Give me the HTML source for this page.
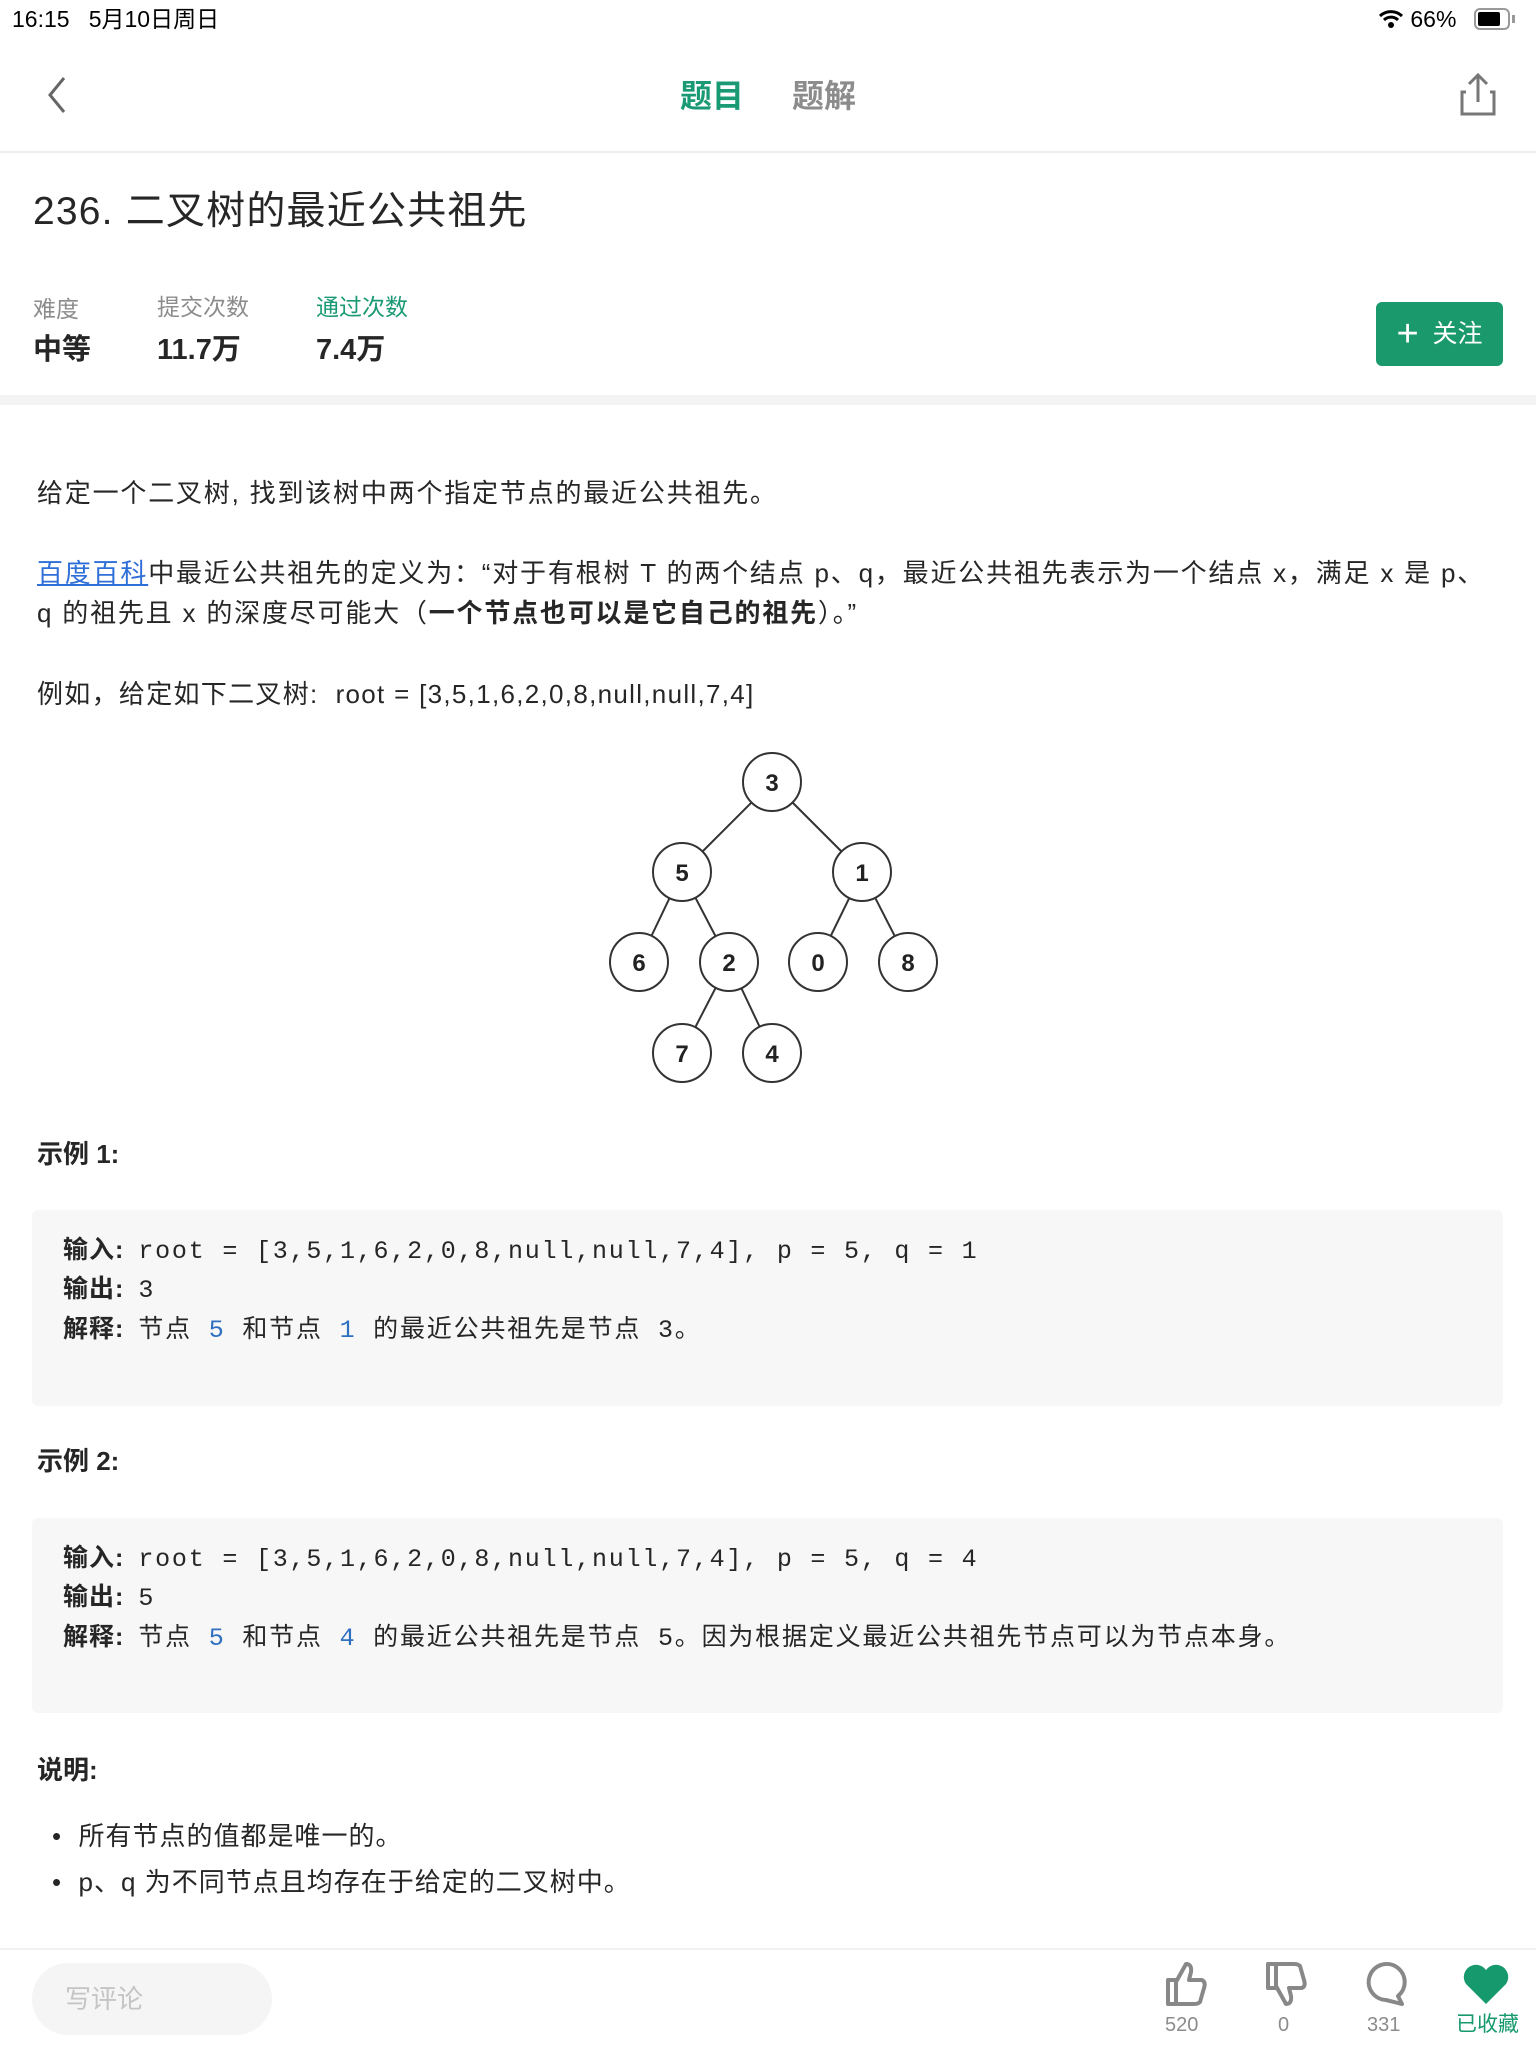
<!DOCTYPE html>
<html><head><meta charset="utf-8"><style>
*{margin:0;padding:0;box-sizing:border-box}
body{width:1536px;height:2048px;background:#fff;position:relative;overflow:hidden;font-family:"Liberation Sans","Noto Sans CJK SC",sans-serif;color:#262626}
.a{position:absolute;white-space:nowrap;line-height:1}
.t{letter-spacing:1.8px}
.mono{font-family:"Liberation Mono","Noto Sans CJK SC",monospace;letter-spacing:1.8px}
.box{position:absolute;left:32px;width:1471px;background:#f7f7f8;border-radius:6px}
.b{color:#2f6fc0}
.lb{font-family:'Liberation Sans','Noto Sans CJK SC';letter-spacing:1px;margin-right:14px}
</style></head><body>
<div class="a" style="left:12px;top:8px;font-size:23px;color:#000">16:15&nbsp;&nbsp;&nbsp;5月10日周日</div>
<div class="a" style="left:1378px;top:8px;font-size:23px;color:#000">
<svg width="26" height="22" viewBox="0 0 26 22" style="vertical-align:-3px"><path d="M2 8a16 16 0 0 1 22 0" stroke="#000" stroke-width="3" fill="none"/><path d="M6 12a10 10 0 0 1 14 0" stroke="#000" stroke-width="3" fill="none"/><circle cx="13" cy="17" r="3"/></svg> 66%</div>
<div class="a" style="left:1474px;top:8px;width:36px;height:22px;border:2px solid #999;border-radius:6px"><div style="margin:2px;width:22px;height:14px;background:#000;border-radius:2px"></div></div>
<div class="a" style="left:1512px;top:15px;width:3px;height:8px;background:#999"></div>
<svg class="a" style="left:40px;top:75px" width="30" height="40"><path d="M24 3 L10 20 L24 37" stroke="#666" stroke-width="3" fill="none"/></svg>
<div class="a" style="left:680px;top:80px;font-size:32px;color:#1a9a74;font-weight:bold">题目</div>
<div class="a" style="left:792px;top:80px;font-size:32px;color:#8c8c8c;font-weight:bold">题解</div>
<svg class="a" style="left:1458px;top:72px" width="40" height="46"><path d="M20 30 V4 M11 12 L20 3 L29 12" stroke="#777" stroke-width="3" fill="none"/><path d="M8 20 H4 V42 H36 V20 H32" stroke="#777" stroke-width="3" fill="none"/></svg>
<div class="a" style="left:0;top:151px;width:1536px;height:2px;background:#eee"></div>
<div class="a" style="left:33px;top:192px;font-size:39px;color:#262626;letter-spacing:1.2px">236. 二叉树的最近公共祖先</div>
<div class="a" style="left:33px;top:298px;font-size:23px;color:#8c8c8c">难度</div>
<div class="a" style="left:157px;top:296px;font-size:23px;color:#8c8c8c">提交次数</div>
<div class="a" style="left:316px;top:296px;font-size:23px;color:#1a9a74">通过次数</div>
<div class="a" style="left:33px;top:336px;font-size:29px;font-weight:bold">中等</div>
<div class="a" style="left:157px;top:336px;font-size:29px;font-weight:bold">11.7万</div>
<div class="a" style="left:316px;top:336px;font-size:29px;font-weight:bold">7.4万</div>
<div class="a" style="left:1376px;top:302px;width:127px;height:64px;background:#1a9a6c;border-radius:6px;color:#fff;font-size:25px;line-height:64px;text-align:center"><span style="font-size:38px;vertical-align:-4px">+</span>&nbsp;&nbsp;关注</div>
<div class="a" style="left:0;top:395px;width:1536px;height:10px;background:#f3f3f3"></div>
<div class="a t" style="left:37px;top:480px;font-size:26px">给定一个二叉树, 找到该树中两个指定节点的最近公共祖先。</div>
<div class="a t" style="left:37px;top:560px;font-size:26px"><span style="color:#2f6fd8;text-decoration:underline">百度百科</span>中最近公共祖先的定义为：“对于有根树 T 的两个结点 p、q，最近公共祖先表示为一个结点 x，满足 x 是 p、</div>
<div class="a t" style="left:37px;top:600px;font-size:26px">q 的祖先且 x 的深度尽可能大（<b>一个节点也可以是它自己的祖先</b>）。”</div>
<div class="a" style="left:37px;top:681px;font-size:26px;letter-spacing:1.3px">例如，给定如下二叉树:&nbsp; root = [3,5,1,6,2,0,8,null,null,7,4]</div>
<svg class="a" style="left:0;top:0" width="1536" height="1100">
<g stroke="#333" stroke-width="2" fill="#fff">
<line x1="772" y1="782" x2="682" y2="872"/><line x1="772" y1="782" x2="862" y2="872"/>
<line x1="682" y1="872" x2="639" y2="962"/><line x1="682" y1="872" x2="729" y2="962"/>
<line x1="862" y1="872" x2="818" y2="962"/><line x1="862" y1="872" x2="908" y2="962"/>
<line x1="729" y1="962" x2="682" y2="1053"/><line x1="729" y1="962" x2="772" y2="1053"/>
<circle cx="772" cy="782" r="29"/><circle cx="682" cy="872" r="29"/><circle cx="862" cy="872" r="29"/>
<circle cx="639" cy="962" r="29"/><circle cx="729" cy="962" r="29"/><circle cx="818" cy="962" r="29"/><circle cx="908" cy="962" r="29"/>
<circle cx="682" cy="1053" r="29"/><circle cx="772" cy="1053" r="29"/>
</g>
<g font-family="Liberation Sans" font-size="24" font-weight="bold" text-anchor="middle" fill="#222">
<text x="772" y="791">3</text><text x="682" y="881">5</text><text x="862" y="881">1</text>
<text x="639" y="971">6</text><text x="729" y="971">2</text><text x="818" y="971">0</text><text x="908" y="971">8</text>
<text x="682" y="1062">7</text><text x="772" y="1062">4</text></g>
</svg>
<div class="a" style="left:37px;top:1141px;font-size:26px;font-weight:bold">示例 1:</div>
<div class="box" style="top:1210px;height:196px"></div>
<div class="a mono" style="left:63px;top:1238px;font-size:25px"><b class="lb">输入:</b>root = [3,5,1,6,2,0,8,null,null,7,4], p = 5, q = 1</div>
<div class="a mono" style="left:63px;top:1277px;font-size:25px"><b class="lb">输出:</b>3</div>
<div class="a mono" style="left:63px;top:1317px;font-size:25px"><b class="lb">解释:</b>节点 <span class="b">5</span> 和节点 <span class="b">1</span> 的最近公共祖先是节点 3。</div>
<div class="a" style="left:37px;top:1448px;font-size:26px;font-weight:bold">示例 2:</div>
<div class="box" style="top:1518px;height:195px"></div>
<div class="a mono" style="left:63px;top:1546px;font-size:25px"><b class="lb">输入:</b>root = [3,5,1,6,2,0,8,null,null,7,4], p = 5, q = 4</div>
<div class="a mono" style="left:63px;top:1585px;font-size:25px"><b class="lb">输出:</b>5</div>
<div class="a mono" style="left:63px;top:1625px;font-size:25px"><b class="lb">解释:</b>节点 <span class="b">5</span> 和节点 <span class="b">4</span> 的最近公共祖先是节点 5。因为根据定义最近公共祖先节点可以为节点本身。</div>
<div class="a" style="left:37px;top:1757px;font-size:26px;font-weight:bold">说明:</div>
<div class="a" style="left:52px;top:1823px;font-size:26px;letter-spacing:1px">•&nbsp; 所有节点的值都是唯一的。</div>
<div class="a" style="left:52px;top:1869px;font-size:26px;letter-spacing:1px">•&nbsp; p、q 为不同节点且均存在于给定的二叉树中。</div>
<div class="a" style="left:0;top:1948px;width:1536px;height:2px;background:#f2f2f2"></div>
<div class="a" style="left:32px;top:1963px;width:240px;height:72px;background:#f5f5f5;border-radius:36px"></div>
<div class="a" style="left:65px;top:1986px;font-size:26px;color:#c4c4c4">写评论</div>
<svg class="a" style="left:1160px;top:1958px" width="376" height="52">
<g stroke="#888" stroke-width="4" fill="none" stroke-linejoin="round">
<path d="M8 22 H16 V46 H8 Z M16 24 L26 6 Q32 6 31 14 L29 22 H42 Q46 24 44 30 L40 44 Q38 46 34 46 H16"/>
<path d="M108 30 H116 V6 H108 Z M116 28 L126 46 Q132 46 131 38 L129 30 H142 Q146 28 144 22 L140 8 Q138 6 134 6 H116"/>
<path d="M226 42 A18 18 0 1 1 238 38 L242 46 Z"/>
</g>
<path d="M326 46 L306 26 A11 11 0 0 1 326 12 A11 11 0 0 1 346 26 Z" fill="#16996d"/>
</svg>
<div class="a" style="left:1165px;top:2015px;font-size:20px;color:#8c8c8c">520</div>
<div class="a" style="left:1278px;top:2015px;font-size:20px;color:#8c8c8c">0</div>
<div class="a" style="left:1367px;top:2015px;font-size:20px;color:#8c8c8c">331</div>
<div class="a" style="left:1456px;top:2014px;font-size:21px;color:#16996d">已收藏</div>
</body></html>
